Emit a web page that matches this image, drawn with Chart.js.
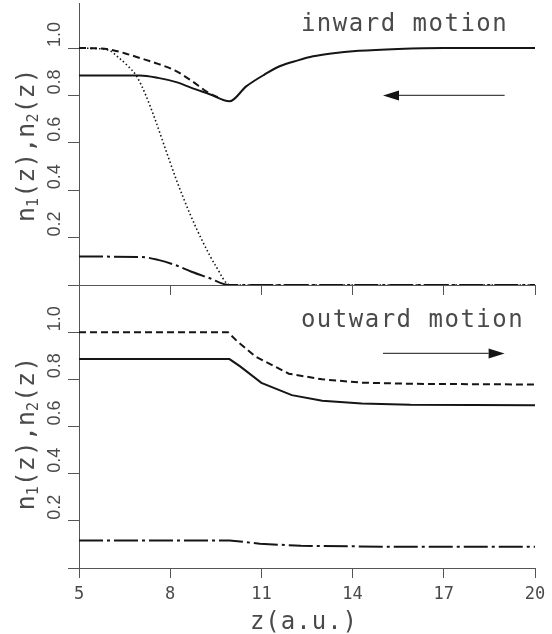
<!DOCTYPE html>
<html>
<head>
<meta charset="utf-8">
<script src="https://cdn.jsdelivr.net/npm/chart.js@4/dist/chart.umd.min.js"></script>
<style>
  body { margin: 0; background: #fff; }
  #wrap { position: relative; width: 552px; height: 634px; }
  canvas { position: absolute; left: 0; top: 0; }
</style>
</head>
<body>
<div id="wrap">
  <canvas id="bottom" width="552" height="634"></canvas>
  <canvas id="top" width="552" height="300"></canvas>
</div>
<script>
// axis ticks
const xTicks = [5, 8, 11, 14, 17, 20];
const yTicks = [0, 0.2, 0.4, 0.6, 0.8, 1.0];
const yTickLabels = ['', '0.2', '0.4', '0.6', '0.8', '1.0'];

// inward motion (upper panel)
const inSolidZ = [5, 7.0, 7.6, 8.2, 8.7, 9.3, 9.95, 10.5, 11.1, 11.6, 12.2, 12.7, 13.3, 14.2, 15.5, 17, 20];
const inSolidN = [0.884, 0.884, 0.874, 0.856, 0.832, 0.805, 0.775, 0.838, 0.888, 0.923, 0.948, 0.965, 0.977, 0.988, 0.996, 1.0, 1.0];
const inDashZ = [5, 5.5, 6.0, 6.5, 7.05, 7.6, 8.15, 8.7, 9.2, 9.6];
const inDashN = [1.0, 0.999, 0.994, 0.978, 0.956, 0.933, 0.906, 0.862, 0.816, 0.79];
const inDotZ = [5, 5.5, 6.0, 6.3, 6.6, 6.9, 7.2, 7.5, 7.8, 8.2, 8.65, 9.1, 9.5, 9.97, 20];
const inDotN = [1.0, 0.998, 0.99, 0.96, 0.925, 0.88, 0.80, 0.70, 0.59, 0.445, 0.30, 0.175, 0.08, 0.0, 0.0];
const inDashDotZ = [5, 7.05, 7.6, 8.15, 8.7, 9.25, 9.95, 20];
const inDashDotN = [0.12, 0.118, 0.106, 0.085, 0.056, 0.031, 0.0, 0.0];

// outward motion (lower panel)
const outSolidZ = [5, 9.95, 10.3, 11.0, 12.0, 13.0, 14.3, 15.9, 20];
const outSolidN = [0.886, 0.886, 0.855, 0.785, 0.733, 0.709, 0.698, 0.692, 0.69];
const outDashZ = [5, 9.9, 10.2, 10.8, 11.9, 13.0, 14.3, 15.9, 20];
const outDashN = [1.0, 1.0, 0.962, 0.897, 0.824, 0.80, 0.786, 0.781, 0.778];
const outDashDotZ = [5, 9.95, 10.95, 12.3, 15.5, 20];
const outDashDotN = [0.117, 0.117, 0.103, 0.094, 0.09, 0.09];

// annotations (data units)
const inLabelAt = [12.3, 1.07];
const inArrow = [[19, 0.8], [15, 0.8]];
const outLabelAt = [12.3, 1.022];
const outArrow = [[15, 0.91], [19, 0.91]];

const INK = '#151515';
const AXIS = '#555';
const TEXT = '#4a4a4a';
const MONO = '"DejaVu Sans Mono", monospace';

const pts = (zs, ns) => zs.map((z, i) => ({ x: z, y: ns[i] }));

const styles = {
  solid: { borderColor: INK, borderWidth: 2, borderDash: [] },
  dash: { borderColor: INK, borderWidth: 2, borderDash: [7, 4] },
  dot: { borderColor: INK, borderWidth: 1.6, borderDash: [1.5, 2.5] },
  dashDot: { borderColor: INK, borderWidth: 2, borderDash: [24, 4, 3, 4] },
};

function ds(zs, ns, style, tension) {
  return Object.assign({
    data: pts(zs, ns),
    pointRadius: 0,
    fill: false,
    tension: tension,
    cubicInterpolationMode: tension ? 'monotone' : 'default',
  }, styles[style]);
}

function drawArrow(ctx, x0, y0, x1, y1) {
  const dir = Math.sign(x1 - x0);
  const headLen = 16, half = 5;
  ctx.save();
  ctx.strokeStyle = '#444';
  ctx.lineWidth = 1.2;
  ctx.beginPath();
  ctx.moveTo(x0, y0);
  ctx.lineTo(x1 - dir * headLen, y1);
  ctx.stroke();
  ctx.fillStyle = INK;
  ctx.beginPath();
  ctx.moveTo(x1, y1);
  ctx.lineTo(x1 - dir * headLen, y1 - half);
  ctx.lineTo(x1 - dir * headLen, y1 + half);
  ctx.closePath();
  ctx.fill();
  ctx.restore();
}

function drawYTitle(ctx, cx, cy) {
  const parts = [['n', 0], ['1', 1], ['(z),n', 0], ['2', 1], ['(z)', 0]];
  const big = '25px ' + MONO, small = '15px ' + MONO;
  ctx.save();
  ctx.translate(cx, cy);
  ctx.rotate(-Math.PI / 2);
  ctx.fillStyle = TEXT;
  ctx.textBaseline = 'middle';
  ctx.textAlign = 'left';
  let total = 0;
  parts.forEach(([t, sub]) => { ctx.font = sub ? small : big; total += ctx.measureText(t).width; });
  let x = -total / 2;
  parts.forEach(([t, sub]) => {
    ctx.font = sub ? small : big;
    ctx.fillText(t, x, sub ? 7 : 0);
    x += ctx.measureText(t).width;
  });
  ctx.restore();
}

const panelDecor = {
  id: 'panelDecor',
  afterDraw(chart, args, o) {
    const ctx = chart.ctx;
    const xs = chart.scales.x, ys = chart.scales.y;
    // rotated y tick labels
    ctx.save();
    ctx.fillStyle = TEXT;
    ctx.font = '18px "Liberation Sans", Arial, sans-serif';
    ctx.textBaseline = 'middle';
    ctx.textAlign = 'left';
    yTicks.forEach((v, i) => {
      if (!yTickLabels[i]) return;
      ctx.save();
      ctx.translate(55, ys.getPixelForValue(v) - 1);
      ctx.rotate(-Math.PI / 2);
      ctx.fillText(yTickLabels[i], 0, 0);
      ctx.restore();
    });
    ctx.restore();

    drawYTitle(ctx, 27, ys.getPixelForValue(o.yTitleAt));

    ctx.save();
    ctx.fillStyle = TEXT;
    ctx.font = '24px ' + MONO;
    ctx.letterSpacing = '1.5px';
    ctx.textAlign = 'left';
    ctx.textBaseline = 'alphabetic';
    ctx.fillText(o.label, xs.getPixelForValue(o.labelAt[0]), ys.getPixelForValue(o.labelAt[1]));
    ctx.restore();

    drawArrow(ctx,
      xs.getPixelForValue(o.arrow[0][0]), ys.getPixelForValue(o.arrow[0][1]),
      xs.getPixelForValue(o.arrow[1][0]), ys.getPixelForValue(o.arrow[1][1]));

    if (o.xTitle) {
      ctx.save();
      ctx.fillStyle = TEXT;
      ctx.font = '24px ' + MONO;
      ctx.letterSpacing = '1px';
      ctx.textAlign = 'center';
      ctx.textBaseline = 'alphabetic';
      ctx.fillText(o.xTitle, xs.getPixelForValue(12.4), chart.chartArea.bottom + 61);
      ctx.restore();
    }
  }
};

function makeOptions(pad, xHeight, showXLabels, decor) {
  return {
    responsive: false,
    animation: false,
    devicePixelRatio: 1,
    layout: { padding: pad },
    plugins: { legend: { display: false }, tooltip: { enabled: false }, panelDecor: decor },
    scales: {
      x: {
        type: 'linear', min: 5, max: 20,
        afterBuildTicks: s => { s.ticks = xTicks.map(v => ({ value: v })); },
        afterFit: s => { s.height = xHeight; },
        border: { display: true, color: AXIS, width: 1 },
        grid: { drawOnChartArea: false, drawTicks: true, tickLength: 10, color: AXIS, lineWidth: 1 },
        ticks: {
          display: showXLabels, padding: 6, color: TEXT, maxRotation: 0,
          font: { family: MONO, size: 17 }
        }
      },
      y: {
        type: 'linear', min: 0, max: decor.yMax,
        afterBuildTicks: s => { s.ticks = yTicks.map(v => ({ value: v })); },
        afterFit: s => { s.width = 11; },
        border: { display: true, color: AXIS, width: 1 },
        grid: { drawOnChartArea: false, drawTicks: true, tickLength: 11, color: AXIS, lineWidth: 1 },
        ticks: { display: false }
      }
    }
  };
}

new Chart(document.getElementById('top'), {
  type: 'line',
  data: {
    datasets: [
      ds(inDotZ, inDotN, 'dot', 0.3),
      ds(inDashDotZ, inDashDotN, 'dashDot', 0.3),
      ds(inDashZ, inDashN, 'dash', 0.3),
      ds(inSolidZ, inSolidN, 'solid', 0.3),
    ]
  },
  options: makeOptions({ left: 68, right: 17, top: 3, bottom: 5 }, 10, false, {
    yMax: 1.19, label: 'inward motion', labelAt: inLabelAt, arrow: inArrow, yTitleAt: 0.59
  }),
  plugins: [panelDecor]
});

new Chart(document.getElementById('bottom'), {
  type: 'line',
  data: {
    datasets: [
      ds(outDashDotZ, outDashDotN, 'dashDot', 0),
      ds(outDashZ, outDashN, 'dash', 0),
      ds(outSolidZ, outSolidN, 'solid', 0),
    ]
  },
  options: makeOptions({ left: 68, right: 17, top: 285, bottom: 0 }, 66, true, {
    yMax: 1.2, label: 'outward motion', labelAt: outLabelAt, arrow: outArrow, yTitleAt: 0.57,
    xTitle: 'z(a.u.)'
  }),
  plugins: [panelDecor]
});
</script>
</body>
</html>
